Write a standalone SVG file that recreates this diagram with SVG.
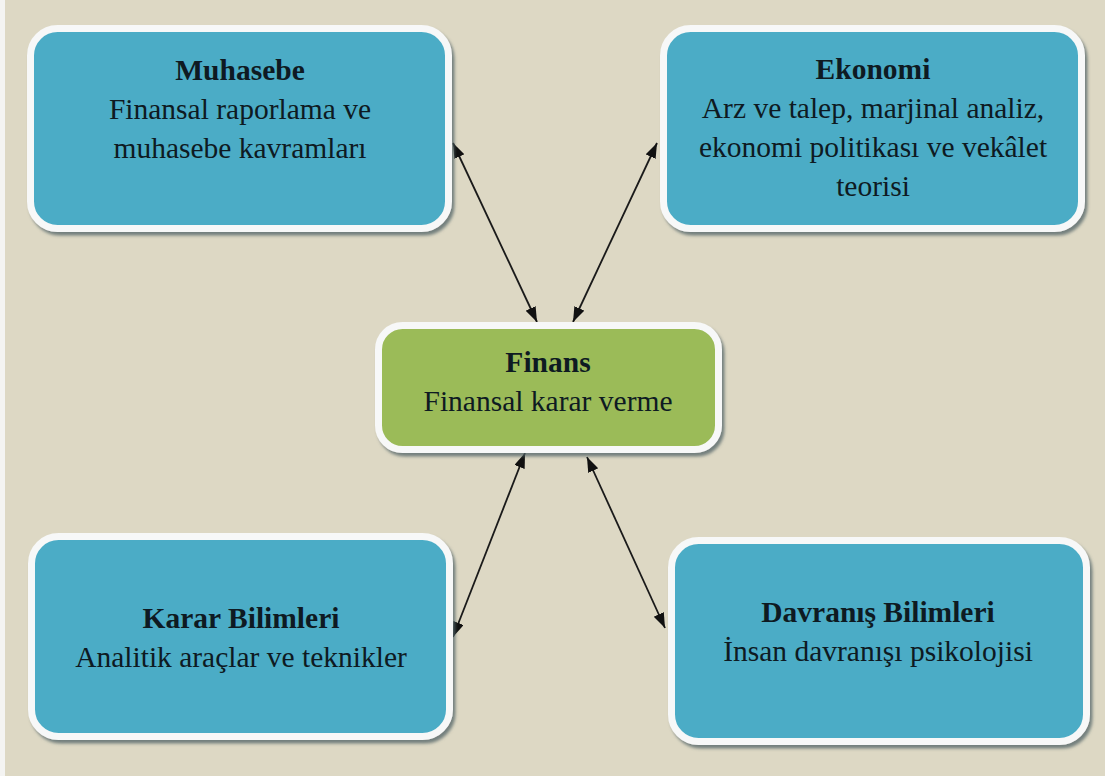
<svg xmlns="http://www.w3.org/2000/svg" width="1105" height="776" viewBox="0 0 1105 776">
  <style>
    .box { stroke: #f7f8f8; stroke-width: 7; filter: url(#shadow); }
    .blue { fill: #4BACC6; }
    .green { fill: #9BBB59; }
    text { font-family: "Liberation Serif", "Times New Roman", serif; font-size: 29.5px; fill: #0e1a22; text-anchor: middle; }
    .title { font-weight: bold; }
    .conn line { stroke: #1a1a1a; stroke-width: 1.8; marker-start: url(#arrow); marker-end: url(#arrow); }
  </style>
  <defs>
    <filter id="shadow" x="-10%" y="-10%" width="120%" height="130%">
      <feDropShadow dx="2.5" dy="3.5" stdDeviation="1.5" flood-color="#4f6266" flood-opacity="0.75"/>
    </filter>
    <marker id="arrow" markerUnits="userSpaceOnUse" markerWidth="16" markerHeight="12" refX="15" refY="5.5" orient="auto-start-reverse">
      <path d="M0,0 L15,5.5 L0,11 z" fill="#111"/>
    </marker>
  </defs>
  <rect x="0" y="0" width="1105" height="776" fill="#DDD8C4"/>
  <rect x="0" y="0" width="5" height="776" fill="#f4f4f2"/>

  <g id="connectors" class="conn">
    <line x1="453" y1="143" x2="537" y2="322"/>
    <line x1="657" y1="143" x2="573" y2="322"/>
    <line x1="525" y1="453" x2="453" y2="637"/>
    <line x1="587" y1="457" x2="665" y2="628"/>
  </g>

  <g id="muhasebe">
    <rect class="box blue" x="30.5" y="28.5" width="418" height="200" rx="27"/>
    <text class="title" x="240" y="80">Muhasebe</text>
    <text x="240" y="119">Finansal raporlama ve</text>
    <text x="240" y="158">muhasebe kavramları</text>
  </g>

  <g id="ekonomi">
    <rect class="box blue" x="663.5" y="28.5" width="418" height="200" rx="27"/>
    <text class="title" x="873" y="79">Ekonomi</text>
    <text x="873" y="118">Arz ve talep, marjinal analiz,</text>
    <text x="873" y="157">ekonomi politikası ve vekâlet</text>
    <text x="873" y="196">teorisi</text>
  </g>

  <g id="finans">
    <rect class="box green" x="378.5" y="325.5" width="340" height="124" rx="24"/>
    <text class="title" x="548" y="372">Finans</text>
    <text x="548" y="411">Finansal karar verme</text>
  </g>

  <g id="karar">
    <rect class="box blue" x="31.5" y="536.5" width="418" height="200" rx="27"/>
    <text class="title" x="241" y="628">Karar Bilimleri</text>
    <text x="241" y="667">Analitik araçlar ve teknikler</text>
  </g>

  <g id="davranis">
    <rect class="box blue" x="671.5" y="540.5" width="415" height="201" rx="27"/>
    <text class="title" x="878" y="622">Davranış Bilimleri</text>
    <text x="878" y="661">İnsan davranışı psikolojisi</text>
  </g>
</svg>
